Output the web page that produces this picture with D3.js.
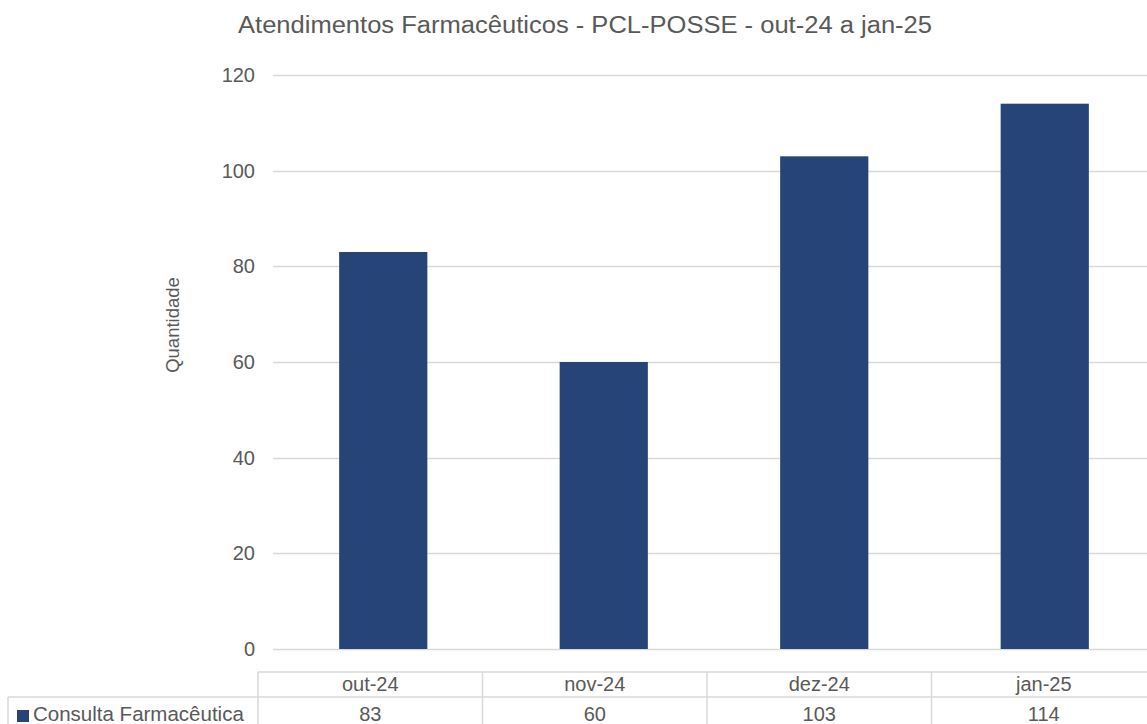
<!DOCTYPE html>
<html>
<head>
<meta charset="utf-8">
<script src="https://cdn.jsdelivr.net/npm/d3@7"></script>
<style>
  html, body { margin: 0; padding: 0; background: #fff; }
  svg { display: block; font-family: "Liberation Sans", Arial, sans-serif; }
</style>
</head>
<body>
<svg id="chart" width="1147" height="724"></svg>
<script>
const categories = ["out-24", "nov-24", "dez-24", "jan-25"];
const seriesName = "Consulta Farmacêutica";
const values = [83, 60, 103, 114];
const yTicks = [0, 20, 40, 60, 80, 100, 120];
const titleText = "Atendimentos Farmacêuticos - PCL-POSSE - out-24 a jan-25";
const yTitle = "Quantidade";

const svg = d3.select("#chart");
const textColor = "#595959";
const gridColor = "#d9d9d9";
const barColor = "#264478";

const plot = { left: 273, right: 1155, top: 75, bottom: 649 };

const x = d3.scaleBand().domain(categories).range([plot.left, plot.right]).paddingInner(0.6).paddingOuter(0.3);
const y = d3.scaleLinear().domain([0, 120]).range([plot.bottom, plot.top]);

// title
svg.append("text").attr("x", 585).attr("y", 33).attr("text-anchor", "middle")
  .attr("font-size", 23).attr("fill", textColor)
  .attr("textLength", 694).attr("lengthAdjust", "spacingAndGlyphs").text(titleText);

// gridlines
svg.append("g").selectAll("line").data(yTicks).join("line")
  .attr("x1", plot.left).attr("x2", plot.right)
  .attr("y1", d => Math.round(y(d)) + 0.5).attr("y2", d => Math.round(y(d)) + 0.5)
  .attr("stroke", gridColor).attr("stroke-width", 1.5);

// y axis labels
const yAxis = d3.axisLeft(y).tickValues(yTicks).tickSize(0).tickPadding(0);
const gy = svg.append("g").attr("transform", `translate(${255},0)`).call(yAxis);
gy.select(".domain").remove();
gy.selectAll("text").attr("font-size", 20).attr("fill", textColor)
  .attr("font-family", "Liberation Sans, Arial, sans-serif");

// y title
svg.append("text").attr("transform", `translate(179, ${325}) rotate(-90)`)
  .attr("text-anchor", "middle").attr("font-size", 18.5).attr("fill", textColor).text(yTitle);

// bars
svg.append("g").selectAll("rect").data(values).join("rect")
  .attr("x", (d, i) => x(categories[i]))
  .attr("width", x.bandwidth())
  .attr("y", d => y(d))
  .attr("height", d => y(0) - y(d))
  .attr("fill", barColor);

// data table
const colX = d3.scaleBand().domain(categories).range([258, 1156]);
const rowTop = 672, rowMid = 697, rowBot = 724;
const tbl = svg.append("g").attr("stroke", gridColor).attr("stroke-width", 1.5).attr("fill", "none");
tbl.append("line").attr("x1", 258).attr("x2", 1156).attr("y1", rowTop).attr("y2", rowTop);
tbl.append("line").attr("x1", 8).attr("x2", 1156).attr("y1", rowMid).attr("y2", rowMid);
tbl.append("line").attr("x1", 8).attr("x2", 8).attr("y1", rowMid).attr("y2", rowBot);
tbl.selectAll("line.v").data(categories).join("line").attr("class", "v")
  .attr("x1", d => colX(d)).attr("x2", d => colX(d)).attr("y1", rowTop).attr("y2", rowBot);

svg.append("g").selectAll("text").data(categories).join("text")
  .attr("x", d => colX(d) + colX.bandwidth() / 2).attr("y", 691)
  .attr("text-anchor", "middle").attr("font-size", 20).attr("fill", textColor).text(d => d);
svg.append("g").selectAll("text").data(values).join("text")
  .attr("x", (d, i) => colX(categories[i]) + colX.bandwidth() / 2).attr("y", 721)
  .attr("text-anchor", "middle").attr("font-size", 20).attr("fill", textColor).text(d => d);

svg.append("rect").attr("x", 17).attr("y", 710).attr("width", 12).attr("height", 12).attr("fill", barColor);
svg.append("text").attr("x", 33).attr("y", 721).attr("font-size", 20.5).attr("fill", textColor).text(seriesName);
</script>
</body>
</html>
